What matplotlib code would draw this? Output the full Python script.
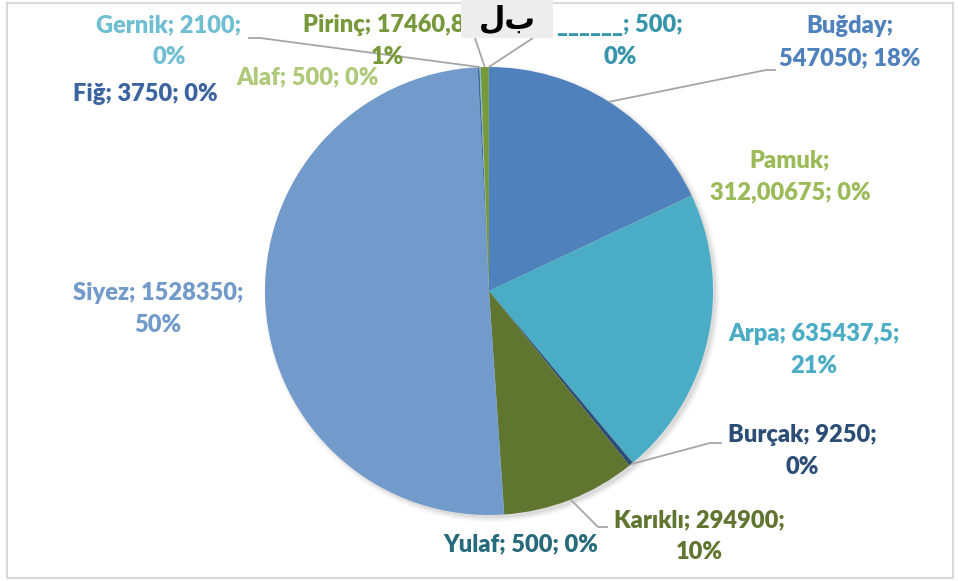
import numpy as np
import matplotlib.pyplot as plt
from matplotlib.patches import Rectangle, Circle

W, H = 958, 581  # canvas in pixels

# Data (values as written in the source chart)
crops = ['Buğday', 'Pamuk', 'Arpa', 'Burçak', 'Karıklı', 'Yulaf',
         'Siyez', 'Fiğ', 'Alaf', 'Gernik', 'Pirinç', '______']
amounts = [547050, 312.00675, 635437.5, 9250, 294900, 500,
           1528350, 3750, 500, 2100, 17460.8, 500]

slice_colors = ['#4F81BD', '#9BBB59', '#4BACC6', '#2C4D75', '#5F7530', '#276A7C',
                '#729ACA', '#3B64A0', '#AFC97A', '#70BED2', '#77993B', '#3795AB']

# Label layout: centre x, centre y (pixels from top-left), where the line break goes
label_layout = {
    'Buğday':  (850, 42, 'name'),
    'Pamuk':   (790, 176, 'name'),
    'Arpa':    (814, 350, 'value'),
    'Burçak':  (802, 451, 'value'),
    'Karıklı': (699, 536, 'value'),
    'Yulaf':   (521, 544, 'none'),
    'Siyez':   (158, 309, 'value'),
    'Fiğ':     (145, 94, 'none'),
    'Alaf':    (308, 77, 'none'),
    'Gernik':  (169, 41, 'value'),
    'Pirinç':  (387, 41, 'value'),
    '______':  (620, 41, 'value'),
}

# Leader lines: label-side points (pixels from top-left), pie end is computed
leaders = {
    'Buğday':  [(776, 70), (766, 70)],
    'Burçak':  [(722, 443), (710, 443)],
    'Karıklı': [(608, 527), (598, 527)],
    'Gernik':  [(248, 38), (260, 38)],
    'Pirinç':  [(475, 38)],
    '______':  [(533, 38)],
}

pie_cx, pie_cy, pie_r = 489, 291, 224

plt.rcParams['font.family'] = ['Lato', 'DejaVu Sans']

fig = plt.figure(figsize=(W / 100, H / 100), dpi=100)
ax = fig.add_axes([0, 0, 1, 1])


def py(y):
    # pixel rows run downwards, axes y runs upwards
    return H - y


# soft shadow behind the pie
for k, a in enumerate([0.05, 0.04, 0.03, 0.02]):
    ax.add_patch(Circle((pie_cx + 3, py(pie_cy) - 3), pie_r + k * 1.5,
                        color='black', alpha=a, lw=0, zorder=0))

wedges, _ = ax.pie(amounts, colors=slice_colors, startangle=90, counterclock=False,
                   center=(pie_cx, py(pie_cy)), radius=pie_r,
                   wedgeprops=dict(linewidth=0))

total = sum(amounts)


def fmt_value(v):
    s = str(v)
    if s.endswith('.0'):
        s = s[:-2]
    return s.replace('.', ',')


for i, (name, v) in enumerate(zip(crops, amounts)):
    pct = f"{round(v / total * 100):.0f}%"
    val = fmt_value(v)
    x, y, brk = label_layout[name]
    if brk == 'name':
        txt = f"{name};\n{val}; {pct}"
    elif brk == 'value':
        txt = f"{name}; {val};\n{pct}"
    else:
        txt = f"{name}; {val}; {pct}"
    ax.text(x, py(y), txt, ha='center', va='center', multialignment='center',
            fontsize=17, fontweight='heavy', color=slice_colors[i],
            linespacing=1.55, zorder=5)

    if name in leaders:
        w = wedges[i]
        mid = np.deg2rad((w.theta1 + w.theta2) / 2)
        ex = pie_cx + pie_r * np.cos(mid)
        ey = py(pie_cy) + pie_r * np.sin(mid)
        pts = [(px, py(qy)) for px, qy in leaders[name]] + [(ex, ey)]
        xs, ys = zip(*pts)
        ax.plot(xs, ys, color='#A6A6A6', lw=1.3, zorder=4, solid_capstyle='butt')

# scanned snippet pasted over the top labels in the original
ax.add_patch(Rectangle((461, py(38)), 92, 38, facecolor='#EDEDED',
                       edgecolor='none', zorder=6))
ax.text(507, py(20), 'لب', ha='center', va='center', fontsize=22,
        fontweight='bold', color='black', family=['DejaVu Sans'], zorder=7)

# chart area border
ax.add_patch(Rectangle((7, py(578)), 946, 575, facecolor='none',
                       edgecolor='#D9D9D9', lw=1.5, zorder=1))

ax.set_xlim(0, W)
ax.set_ylim(0, H)
ax.set_aspect('equal')
ax.axis('off')

fig.savefig('out.png', dpi=100)
